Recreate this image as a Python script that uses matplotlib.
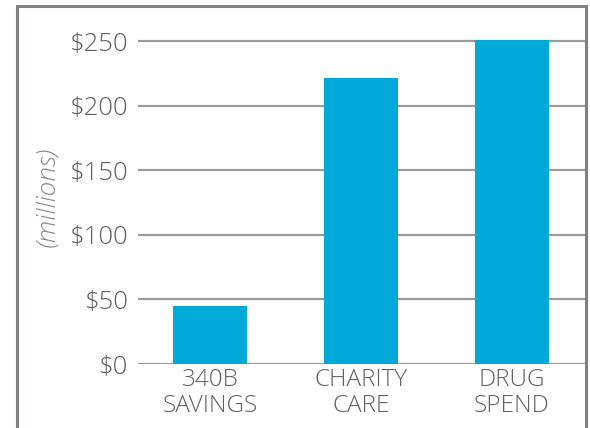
import matplotlib
matplotlib.use("Agg")
import matplotlib.pyplot as plt
from matplotlib.patches import Rectangle

categories = ["340B\nSAVINGS", "CHARITY\nCARE", "DRUG\nSPEND"]
values = [45, 221, 251]
yticks = [0, 50, 100, 150, 200, 250]
ytick_labels = ["$0", "$50", "$100", "$150", "$200", "$250"]

plt.rcParams['font.family'] = ['Open Sans', 'DejaVu Sans']

fig = plt.figure(figsize=(5.9, 4.28), dpi=100)
ax = fig.add_axes([0.234, 0.1495, 0.7575, 0.815])

text_col = "#616266"
grid_col = "#9a9b9f"
bar_col = "#00a9d8"

ax.bar(range(len(values)), values, width=0.49, color=bar_col, zorder=3)
ax.set_xlim(-0.477, 2.483)
ax.set_ylim(0, 270)
ax.set_yticks(yticks)
ax.set_yticklabels(ytick_labels, fontsize=18.5, color=text_col, fontweight='light')
ax.set_xticks(range(len(values)))
ax.set_xticklabels(categories, fontsize=17.5, color=text_col, fontweight='light', linespacing=1.08)
ax.tick_params(axis='both', length=0)
ax.tick_params(axis='y', pad=7)
ax.tick_params(axis='x', pad=3)
for s in ax.spines.values():
    s.set_visible(False)
ax.yaxis.grid(True, color=grid_col, linewidth=1.6, zorder=0)
ax.set_axisbelow(True)

fig.text(0.08, 0.539, "(millions)", rotation=90, fontsize=19, style='italic',
         color="#8a8b8f", ha='center', va='center', fontweight='light')

frame = Rectangle((16.5 / 590, -0.01), (586 - 16.5) / 590, 1 - 6 / 428 + 0.01,
                  transform=fig.transFigure, fill=False, edgecolor="#7d8085",
                  linewidth=2.2, clip_on=False)
fig.patches.append(frame)

fig.savefig("out.png", dpi=100)
